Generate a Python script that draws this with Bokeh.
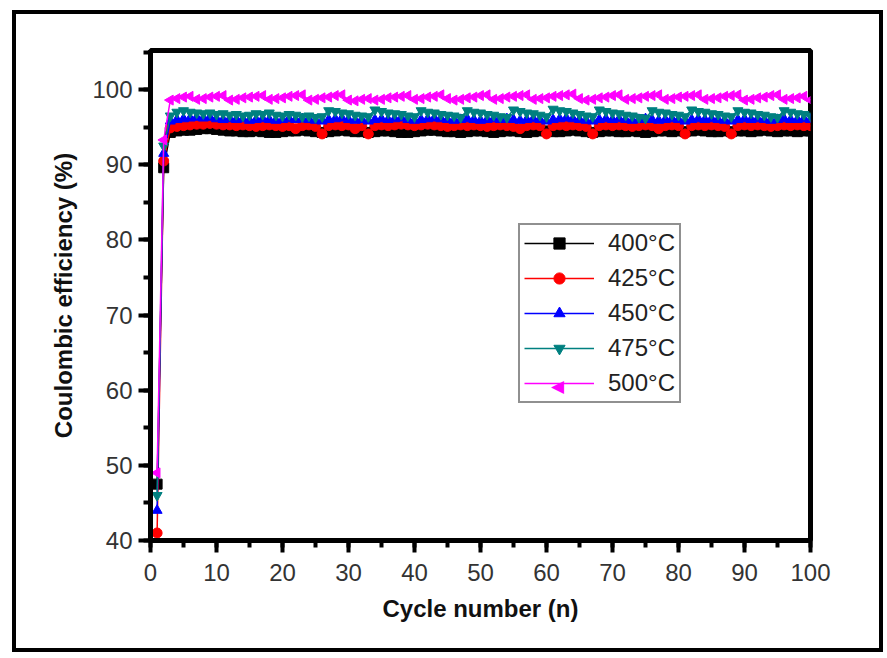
from bokeh.plotting import figure
from bokeh.models import SingleIntervalTicker, Range1d, Legend, LegendItem, Label
from bokeh.layouts import column
from bokeh.embed import file_html
from bokeh.resources import INLINE
import math

cycles = list(range(1, 101))

ce_400 = [47.5, 89.6, 94.3, 94.5, 94.6, 94.6, 94.7, 94.8, 94.8, 94.7,
          94.6, 94.5, 94.5, 94.4, 94.4, 94.5, 94.4, 94.3, 94.3, 94.4,
          94.5, 94.5, 94.6, 94.5, 94.4, 94.3, 94.4, 94.5, 94.6, 94.5,
          94.4, 94.4, 94.3, 94.4, 94.5, 94.5, 94.4, 94.3, 94.3, 94.4,
          94.5, 94.6, 94.6, 94.5, 94.4, 94.4, 94.3, 94.4, 94.5, 94.5,
          94.4, 94.3, 94.4, 94.5, 94.5, 94.4, 94.3, 94.4, 94.5, 94.5,
          94.4, 94.4, 94.5, 94.6, 94.5, 94.4, 94.3, 94.4, 94.5, 94.5,
          94.4, 94.4, 94.5, 94.4, 94.3, 94.4, 94.5, 94.5, 94.4, 94.5,
          94.4, 94.5, 94.6, 94.5, 94.4, 94.4, 94.5, 94.4, 94.5, 94.5,
          94.4, 94.5, 94.6, 94.5, 94.4, 94.5, 94.5, 94.4, 94.5, 94.5]

ce_425 = [41.0, 90.5, 94.9, 95.1, 95.2, 95.3, 95.4, 95.4, 95.5, 95.4,
          95.3, 95.3, 95.2, 95.3, 95.2, 95.1, 95.2, 95.3, 95.2, 95.1,
          95.2, 94.8, 95.2, 95.3, 95.1, 94.1, 95.2, 95.3, 95.2, 95.3,
          94.8, 95.2, 94.1, 95.2, 95.3, 95.2, 95.3, 95.4, 95.3, 95.2,
          95.3, 95.4, 95.3, 95.2, 95.1, 95.2, 95.3, 95.2, 95.3, 95.2,
          95.1, 95.2, 95.3, 95.2, 95.1, 94.8, 95.2, 95.3, 95.2, 94.1,
          95.2, 95.3, 95.2, 95.3, 95.2, 95.1, 94.1, 95.2, 95.3, 95.2,
          95.3, 95.2, 95.1, 95.2, 95.3, 95.2, 94.8, 95.2, 95.3, 95.2,
          94.1, 95.2, 95.3, 95.2, 95.3, 95.2, 95.1, 94.1, 95.2, 95.3,
          95.2, 95.3, 95.2, 95.1, 95.2, 95.3, 95.2, 95.3, 95.2, 95.2]

ce_450 = [44.0, 91.5, 95.8, 96.0, 96.1, 96.2, 96.3, 96.2, 96.3, 96.1,
          96.0, 96.1, 96.0, 96.1, 95.9, 96.0, 96.1, 96.0, 95.9, 96.0,
          96.1, 96.0, 96.1, 96.0, 95.9, 95.8, 96.0, 96.1, 96.2, 96.0,
          95.9, 96.0, 95.8, 96.0, 96.1, 96.0, 96.1, 96.2, 96.0, 95.9,
          96.0, 96.1, 96.2, 96.1, 96.0, 95.9, 96.0, 96.1, 96.0, 95.9,
          96.0, 96.1, 96.0, 96.1, 96.0, 95.9, 96.0, 96.1, 96.0, 95.8,
          96.0, 96.1, 96.2, 96.1, 96.0, 95.9, 95.8, 96.0, 96.1, 96.0,
          96.1, 96.0, 95.9, 96.0, 96.1, 96.0, 95.9, 96.0, 96.1, 96.0,
          95.8, 96.0, 96.1, 96.0, 96.1, 96.0, 95.9, 95.8, 96.0, 96.1,
          96.0, 96.1, 96.0, 95.9, 96.0, 96.1, 96.0, 96.0, 96.1, 96.0]

ce_475 = [46.0, 92.5, 96.5, 97.0, 97.2, 97.0, 96.9, 96.8, 96.9, 96.7,
          96.8, 96.6, 96.7, 96.5, 96.6, 96.8, 96.7, 96.9, 96.6, 96.5,
          96.7, 96.6, 96.4, 96.5, 96.3, 96.4, 97.2, 97.1, 96.9, 96.8,
          96.6, 96.5, 96.4, 97.3, 97.1, 96.9, 96.8, 96.7, 96.5, 96.4,
          97.2, 97.0, 96.9, 96.7, 96.6, 96.5, 96.3, 97.2, 97.0, 96.9,
          96.7, 96.6, 96.4, 96.3, 97.3, 97.1, 96.9, 96.8, 96.6, 96.4,
          97.4, 97.2, 97.1, 96.9, 96.7, 96.5, 96.4, 97.3, 97.1, 96.9,
          96.8, 96.6, 96.5, 96.3, 96.2, 97.2, 97.0, 96.9, 96.7, 96.6,
          96.4, 97.3, 97.1, 97.0, 96.8, 96.7, 96.5, 96.4, 97.2, 97.0,
          96.9, 96.7, 96.6, 96.4, 96.3, 97.2, 97.0, 96.8, 96.7, 96.5]

ce_500 = [49.0, 93.3, 98.6, 98.8, 99.0, 99.1, 98.7, 98.8, 99.0, 99.1,
          99.2, 98.6, 98.7, 98.9, 99.0, 99.1, 99.2, 98.7, 98.8, 98.9,
          99.1, 99.2, 99.3, 98.6, 98.7, 98.9, 99.0, 99.2, 99.3, 98.6,
          98.5, 98.7, 98.8, 98.6, 98.7, 98.9, 99.0, 99.1, 99.2, 98.7,
          98.8, 99.0, 99.1, 99.3, 98.8, 98.6, 98.7, 98.9, 99.0, 99.2,
          99.3, 98.7, 98.8, 99.0, 99.1, 99.2, 99.3, 98.7, 98.8, 98.9,
          99.1, 99.2, 99.3, 99.4, 98.8, 98.6, 98.7, 98.9, 99.0, 99.2,
          99.3, 98.7, 98.8, 98.9, 99.1, 99.2, 99.3, 98.7, 98.8, 99.0,
          99.1, 99.2, 99.3, 98.7, 98.8, 98.9, 99.1, 99.2, 99.3, 98.6,
          98.7, 98.9, 99.0, 99.2, 99.3, 98.7, 98.8, 98.9, 99.1, 98.6]

labels = ["400°C", "425°C", "450°C", "475°C", "500°C"]
colors = ["#000000", "#FF0000", "#0000FF", "#008080", "#FF00FF"]
markers = ["square", "circle", "triangle", "inverted_triangle", "triangle"]
angles = [0, 0, 0, 0, math.pi / 2]
series = [ce_400, ce_425, ce_450, ce_475, ce_500]
for s in series:
    assert len(s) == len(cycles)

FONT = "Liberation Sans"

p = figure(width=863, height=634, output_backend="svg", toolbar_location=None,
           x_range=Range1d(0, 100), y_range=Range1d(40, 105.2),
           min_border_left=134, min_border_right=69, min_border_top=36,
           min_border_bottom=108)
p.xgrid.visible = False
p.ygrid.visible = False
p.outline_line_color = "black"
p.outline_line_width = 5
p.outline_line_alpha = 1

items = []
for i, (lab, col, mk, ang, ys) in enumerate(zip(labels, colors, markers, angles, series)):
    r1 = p.line(cycles, ys, line_color=col, line_width=1.5)
    r2 = p.scatter(cycles, ys, marker=mk, angle=ang, size=10,
                   fill_color=col, line_color=col)
    # legend glyphs are never rotated by Bokeh, so the left-pointing
    # triangle of the last series is added below as a text symbol
    rends = [r1, r2] if ang == 0 else [r1]
    items.append(LegendItem(label=lab, renderers=rends))

LEG_X, LEG_Y, LEG_PAD, LEG_SP, LEG_H, LEG_GW = 368, 137, 4, 7, 28, 70
legend = Legend(items=items, location=(LEG_X, LEG_Y))
legend.border_line_color = "#222222"
legend.border_line_width = 2
legend.background_fill_alpha = 0
legend.label_text_font = FONT
legend.label_text_font_size = "24px"
legend.label_text_color = "#222222"
legend.glyph_width = LEG_GW
legend.glyph_height = LEG_H
legend.label_height = LEG_H
legend.spacing = LEG_SP
legend.padding = LEG_PAD
legend.margin = 0
legend.label_standoff = 14
p.add_layout(legend, "center")

# left-pointing triangle symbol on the last legend row (bottom row)
sym_y = LEG_Y + LEG_PAD + LEG_H / 2
sym_x = LEG_X + LEG_PAD + LEG_GW / 2
p.add_layout(Label(x=sym_x, y=sym_y, x_units="screen", y_units="screen",
                   text="◀", text_color=colors[4], text_font="DejaVu Sans",
                   text_font_size="17px", text_align="center",
                   text_baseline="middle", level="overlay"))

p.xaxis.ticker = SingleIntervalTicker(interval=10, num_minor_ticks=2)
p.yaxis.ticker = SingleIntervalTicker(interval=10, num_minor_ticks=2)
p.axis.axis_line_width = 5
p.axis.axis_line_color = "black"
p.axis.major_tick_line_width = 4
p.axis.major_tick_line_color = "black"
p.axis.minor_tick_line_width = 4
p.axis.minor_tick_line_color = "black"
p.axis.major_tick_in = 0
p.axis.major_tick_out = 12
p.axis.minor_tick_in = 0
p.axis.minor_tick_out = 7
p.axis.major_label_text_font = FONT
p.axis.major_label_text_font_size = "24px"
p.axis.major_label_text_color = "#333333"
p.axis.axis_label_text_font = FONT
p.axis.axis_label_text_font_size = "24px"
p.axis.axis_label_text_font_style = "bold"
p.axis.axis_label_text_color = "#111111"

p.xaxis.axis_label = "Cycle number (n)"
p.yaxis.axis_label = "Coulombic efficiency (%)"
p.xaxis.major_label_standoff = 11
p.xaxis.axis_label_standoff = 11
p.yaxis.major_label_standoff = 6
p.yaxis.axis_label_standoff = 12

layout = column(p, margin=(10, 0, 0, 12), styles={"border": "4px solid black"})

open("out.html", "w").write(file_html(layout, INLINE))
